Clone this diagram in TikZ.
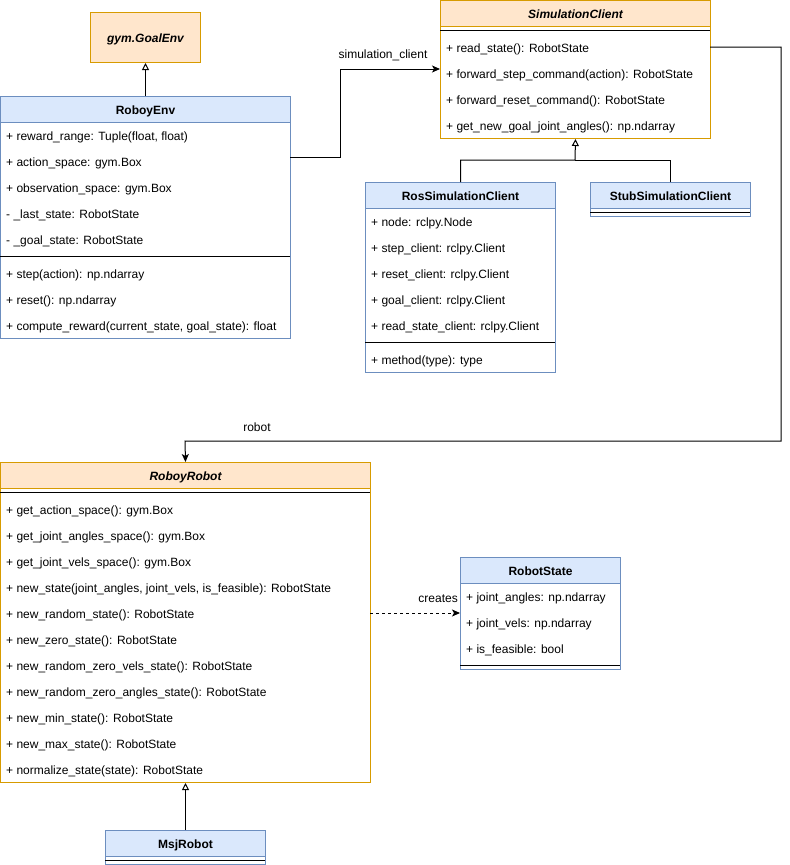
\documentclass[tikz,border=0pt]{standalone}
\usepackage{fontspec}
\setmainfont{Liberation Sans}
\usetikzlibrary{arrows.meta}
\definecolor{bfill}{HTML}{DAE8FC}
\definecolor{bline}{HTML}{6C8EBF}
\definecolor{ofill}{HTML}{FFE6CC}
\definecolor{oline}{HTML}{D79B00}
\tikzset{
  base/.style={line width=1pt, inner sep=0pt, anchor=north west, font=\fontsize{12}{14}\selectfont},
  headtext/.style={text height=10.5pt, text depth=0pt},
  bluehead/.style={base, headtext, draw=bline, fill=bfill, font=\fontsize{12}{14}\selectfont\bfseries},
  bluebody/.style={base, draw=bline, fill=white},
  orahead/.style={base, headtext, draw=oline, fill=ofill, font=\fontsize{12}{14}\selectfont\bfseries\itshape},
  orabody/.style={base, draw=oline, fill=white},
  item/.style={anchor=west, inner xsep=6pt, inner ysep=0pt, yshift=-2pt, font=\fontsize{12}{14}\selectfont},
  lbl/.style={inner sep=0pt, yshift=-2pt, font=\fontsize{12}{14}\selectfont},
  sep/.style={line width=1pt, black},
  conn/.style={line width=1pt, black},
  inh/.style={conn, -{Triangle[open, length=7pt, width=7pt]}},
  assoc/.style={conn, -{Stealth[length=8pt, width=7pt, inset=2pt]}},
  dep/.style={conn, dashed, dash pattern=on 3pt off 3pt, -{Stealth[length=8pt, width=7pt, inset=2pt]}},
}
\begin{document}
\begin{tikzpicture}[x=1pt, y=-1pt]
\useasboundingbox (0,0) rectangle (790,865);

% gym.GoalEnv
\node[orahead, minimum width=110pt, minimum height=50pt] (goal) at (90,12) {gym.GoalEnv};

% RoboyEnv
\node[bluehead, minimum width=290pt, minimum height=26pt] (env) at (0,96) {RoboyEnv};
\node[bluebody, minimum width=290pt, minimum height=216pt] (envbody) at (0,122) {};
\node[item] (env1) at (0,135) {+ reward\_range: Tuple(float, float)};
\node[item] (env2) at (0,161) {+ action\_space: gym.Box};
\node[item] (env3) at (0,187) {+ observation\_space: gym.Box};
\node[item] (env4) at (0,213) {- \_last\_state: RobotState};
\node[item] (env5) at (0,239) {- \_goal\_state: RobotState};
\draw[sep] (0,256) -- (290,256);
\node[item] (env6) at (0,273) {+ step(action): np.ndarray};
\node[item] (env7) at (0,299) {+ reset(): np.ndarray};
\node[item] (env8) at (0,325) {+ compute\_reward(current\_state, goal\_state): float};

% SimulationClient
\node[orahead, minimum width=270pt, minimum height=26pt] (sc) at (440,0) {SimulationClient};
\node[orabody, minimum width=270pt, minimum height=112pt] (scbody) at (440,26) {};
\draw[sep] (440,30) -- (710,30);
\node[item] (sc1) at (440,47) {+ read\_state(): RobotState};
\node[item] (sc2) at (440,73) {+ forward\_step\_command(action): RobotState};
\node[item] (sc3) at (440,99) {+ forward\_reset\_command(): RobotState};
\node[item] (sc4) at (440,125) {+ get\_new\_goal\_joint\_angles(): np.ndarray};

% RosSimulationClient
\node[bluehead, minimum width=190pt, minimum height=26pt] (ros) at (365,182) {RosSimulationClient};
\node[bluebody, minimum width=190pt, minimum height=164pt] (rosbody) at (365,208) {};
\node[item] (ros1) at (365,221) {+ node: rclpy.Node};
\node[item] (ros2) at (365,247) {+ step\_client: rclpy.Client};
\node[item] (ros3) at (365,273) {+ reset\_client: rclpy.Client};
\node[item] (ros4) at (365,299) {+ goal\_client: rclpy.Client};
\node[item] (ros5) at (365,325) {+ read\_state\_client: rclpy.Client};
\draw[sep] (365,342) -- (555,342);
\node[item] (ros6) at (365,359) {+ method(type): type};

% StubSimulationClient
\node[bluehead, minimum width=160pt, minimum height=26pt] (stub) at (590,182) {StubSimulationClient};
\node[bluebody, minimum width=160pt, minimum height=8pt] (stubbody) at (590,208) {};
\draw[sep] (590,212) -- (750,212);

% RoboyRobot
\node[orahead, minimum width=370pt, minimum height=26pt] (rr) at (0,462) {RoboyRobot};
\node[orabody, minimum width=370pt, minimum height=294pt] (rrbody) at (0,488) {};
\draw[sep] (0,492) -- (370,492);
\node[item] (rr1) at (0,509) {+ get\_action\_space(): gym.Box};
\node[item] (rr2) at (0,535) {+ get\_joint\_angles\_space(): gym.Box};
\node[item] (rr3) at (0,561) {+ get\_joint\_vels\_space(): gym.Box};
\node[item] (rr4) at (0,587) {+ new\_state(joint\_angles, joint\_vels, is\_feasible): RobotState};
\node[item] (rr5) at (0,613) {+ new\_random\_state(): RobotState};
\node[item] (rr6) at (0,639) {+ new\_zero\_state(): RobotState};
\node[item] (rr7) at (0,665) {+ new\_random\_zero\_vels\_state(): RobotState};
\node[item] (rr8) at (0,691) {+ new\_random\_zero\_angles\_state(): RobotState};
\node[item] (rr9) at (0,717) {+ new\_min\_state(): RobotState};
\node[item] (rr10) at (0,743) {+ new\_max\_state(): RobotState};
\node[item] (rr11) at (0,769) {+ normalize\_state(state): RobotState};

% RobotState
\node[bluehead, minimum width=160pt, minimum height=26pt] (rs) at (460,557) {RobotState};
\node[bluebody, minimum width=160pt, minimum height=86pt] (rsbody) at (460,583) {};
\node[item] (rs1) at (460,596) {+ joint\_angles: np.ndarray};
\node[item] (rs2) at (460,622) {+ joint\_vels: np.ndarray};
\node[item] (rs3) at (460,648) {+ is\_feasible: bool};
\draw[sep] (460,665) -- (620,665);

% MsjRobot
\node[bluehead, minimum width=160pt, minimum height=26pt] (msj) at (105,830) {MsjRobot};
\node[bluebody, minimum width=160pt, minimum height=8pt] (msjbody) at (105,856) {};
\draw[sep] (105,860) -- (265,860);

% connectors
\draw[inh] (env.north) -- (goal.south);

\coordinate (envout) at (290,157);
\coordinate (scin) at (440,69);
\draw[assoc] (envout) -- (340,157) -- (340,69) -- (scin);
\node[lbl] (lsim) at (383,53) {simulation\_client};

\coordinate (junction) at (575,160);
\draw[inh] (ros.north) |- (junction) -- (scbody.south);
\draw[conn] (stub.north) |- (junction);

\coordinate (scout) at (710,47);
\draw[assoc] (scout) -- (781,47) -- (781,441) -- (185,441) -- (rr.north);
\node[lbl] (lrobot) at (257,425) {robot};

\coordinate (rrout) at (370,613);
\coordinate (rsin) at (460,613);
\draw[dep] (rrout) -- (rsin);
\node[lbl, anchor=east] (lcreates) at (458,597) {creates};

\draw[inh] (msj.north) -- (rrbody.south);
\end{tikzpicture}
\end{document}
